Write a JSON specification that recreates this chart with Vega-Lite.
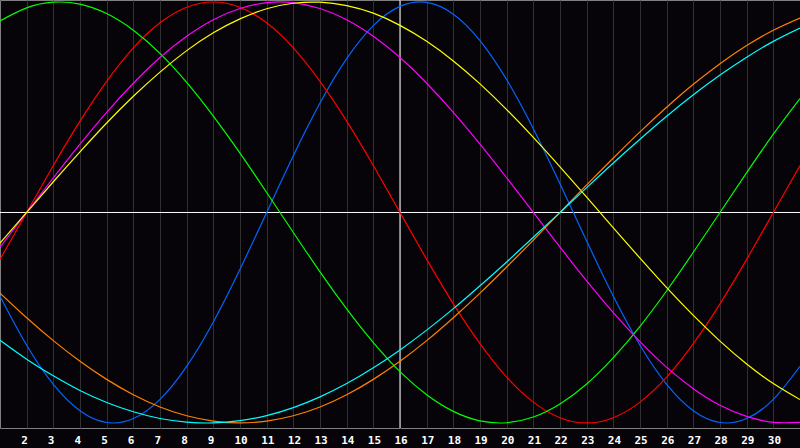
{
  "$schema": "https://vega.github.io/schema/vega-lite/v6.json",
  "width": 800,
  "height": 428,
  "autosize": "none",
  "padding": {"left": 0, "top": 0, "right": 0, "bottom": 20},
  "background": "#060408",
  "config": {
    "view": {"stroke": "#808080", "strokeWidth": 1},
    "font": "DejaVu Sans Mono",
    "axisX": {
      "title": null,
      "grid": true,
      "gridColor": "#303030",
      "gridWidth": 1,
      "gridOpacity": 1,
      "domain": false,
      "ticks": false,
      "tickSize": 0,
      "labelColor": "#ffffff",
      "labelFont": "DejaVu Sans Mono",
      "labelFontSize": 11,
      "labelFontWeight": "bold",
      "labelAlign": "left",
      "labelOffset": -6,
      "labelBaseline": "alphabetic",
      "labelPadding": 15,
      "labelOverlap": false,
      "labelFlush": false,
      "labelBound": false
    }
  },
  "datasets": {
    "curves": [
      {"t":1,"Physical":-0.398,"Emotional":-0.223,"Intellectual":0.910,"Intuitive":-0.165,"Aesthetic":-0.146,"Awareness":-0.383,"Spiritual":-0.607},
      {"t":2,"Physical":-0.631,"Emotional":0,"Intellectual":0.972,"Intuitive":0,"Aesthetic":0,"Awareness":-0.5,"Spiritual":-0.697},
      {"t":3,"Physical":-0.817,"Emotional":0.223,"Intellectual":0.999,"Intuitive":0.165,"Aesthetic":0.146,"Awareness":-0.609,"Spiritual":-0.776},
      {"t":4,"Physical":-0.942,"Emotional":0.434,"Intellectual":0.990,"Intuitive":0.325,"Aesthetic":0.288,"Awareness":-0.707,"Spiritual":-0.846},
      {"t":5,"Physical":-0.998,"Emotional":0.623,"Intellectual":0.945,"Intuitive":0.476,"Aesthetic":0.425,"Awareness":-0.793,"Spiritual":-0.903},
      {"t":6,"Physical":-0.979,"Emotional":0.782,"Intellectual":0.866,"Intuitive":0.614,"Aesthetic":0.552,"Awareness":-0.866,"Spiritual":-0.947},
      {"t":7,"Physical":-0.888,"Emotional":0.901,"Intellectual":0.756,"Intuitive":0.736,"Aesthetic":0.667,"Awareness":-0.924,"Spiritual":-0.979},
      {"t":8,"Physical":-0.731,"Emotional":0.975,"Intellectual":0.618,"Intuitive":0.837,"Aesthetic":0.769,"Awareness":-0.966,"Spiritual":-0.996},
      {"t":9,"Physical":-0.520,"Emotional":1,"Intellectual":0.458,"Intuitive":0.916,"Aesthetic":0.854,"Awareness":-0.991,"Spiritual":-1.0},
      {"t":10,"Physical":-0.270,"Emotional":0.975,"Intellectual":0.282,"Intuitive":0.969,"Aesthetic":0.920,"Awareness":-1,"Spiritual":-0.989},
      {"t":11,"Physical":0,"Emotional":0.901,"Intellectual":0.095,"Intuitive":0.997,"Aesthetic":0.968,"Awareness":-0.991,"Spiritual":-0.965},
      {"t":12,"Physical":0.270,"Emotional":0.782,"Intellectual":-0.095,"Intuitive":0.997,"Aesthetic":0.994,"Awareness":-0.966,"Spiritual":-0.927},
      {"t":13,"Physical":0.520,"Emotional":0.623,"Intellectual":-0.282,"Intuitive":0.969,"Aesthetic":0.999,"Awareness":-0.924,"Spiritual":-0.876},
      {"t":14,"Physical":0.731,"Emotional":0.434,"Intellectual":-0.458,"Intuitive":0.916,"Aesthetic":0.983,"Awareness":-0.866,"Spiritual":-0.813},
      {"t":15,"Physical":0.888,"Emotional":0.223,"Intellectual":-0.618,"Intuitive":0.837,"Aesthetic":0.947,"Awareness":-0.793,"Spiritual":-0.738},
      {"t":16,"Physical":0.979,"Emotional":0,"Intellectual":-0.756,"Intuitive":0.736,"Aesthetic":0.889,"Awareness":-0.707,"Spiritual":-0.653},
      {"t":17,"Physical":0.998,"Emotional":-0.223,"Intellectual":-0.866,"Intuitive":0.614,"Aesthetic":0.813,"Awareness":-0.609,"Spiritual":-0.559},
      {"t":18,"Physical":0.942,"Emotional":-0.434,"Intellectual":-0.945,"Intuitive":0.476,"Aesthetic":0.720,"Awareness":-0.5,"Spiritual":-0.457},
      {"t":19,"Physical":0.817,"Emotional":-0.623,"Intellectual":-0.990,"Intuitive":0.325,"Aesthetic":0.611,"Awareness":-0.383,"Spiritual":-0.348},
      {"t":20,"Physical":0.631,"Emotional":-0.782,"Intellectual":-0.999,"Intuitive":0.165,"Aesthetic":0.489,"Awareness":-0.259,"Spiritual":-0.235},
      {"t":21,"Physical":0.398,"Emotional":-0.901,"Intellectual":-0.972,"Intuitive":0,"Aesthetic":0.357,"Awareness":-0.131,"Spiritual":-0.118},
      {"t":22,"Physical":0.136,"Emotional":-0.975,"Intellectual":-0.910,"Intuitive":-0.165,"Aesthetic":0.217,"Awareness":0,"Spiritual":0},
      {"t":23,"Physical":-0.136,"Emotional":-1,"Intellectual":-0.815,"Intuitive":-0.325,"Aesthetic":0.073,"Awareness":0.131,"Spiritual":0.118},
      {"t":24,"Physical":-0.398,"Emotional":-0.975,"Intellectual":-0.690,"Intuitive":-0.476,"Aesthetic":-0.073,"Awareness":0.259,"Spiritual":0.235},
      {"t":25,"Physical":-0.631,"Emotional":-0.901,"Intellectual":-0.541,"Intuitive":-0.614,"Aesthetic":-0.217,"Awareness":0.383,"Spiritual":0.348},
      {"t":26,"Physical":-0.817,"Emotional":-0.782,"Intellectual":-0.372,"Intuitive":-0.736,"Aesthetic":-0.357,"Awareness":0.5,"Spiritual":0.457},
      {"t":27,"Physical":-0.942,"Emotional":-0.623,"Intellectual":-0.189,"Intuitive":-0.837,"Aesthetic":-0.489,"Awareness":0.609,"Spiritual":0.559},
      {"t":28,"Physical":-0.998,"Emotional":-0.434,"Intellectual":0,"Intuitive":-0.916,"Aesthetic":-0.611,"Awareness":0.707,"Spiritual":0.653},
      {"t":29,"Physical":-0.979,"Emotional":-0.223,"Intellectual":0.189,"Intuitive":-0.969,"Aesthetic":-0.720,"Awareness":0.793,"Spiritual":0.738},
      {"t":30,"Physical":-0.888,"Emotional":0,"Intellectual":0.372,"Intuitive":-0.997,"Aesthetic":-0.813,"Awareness":0.866,"Spiritual":0.813},
      {"t":31,"Physical":-0.731,"Emotional":0.223,"Intellectual":0.541,"Intuitive":-0.997,"Aesthetic":-0.889,"Awareness":0.924,"Spiritual":0.876}
    ]
  },
  "layer": [
    {
      "data": {"values": [{"v": 0}]},
      "mark": {"type": "rule", "color": "#ffffff", "strokeWidth": 1},
      "encoding": {
        "y": {"field": "v", "type": "quantitative", "scale": {"domain": [-1.024, 1.0095], "nice": false, "zero": false}, "axis": null}
      }
    },
    {
      "data": {"values": [{"t": 16}]},
      "mark": {"type": "rule", "color": "#ffffff", "strokeWidth": 1},
      "encoding": {
        "x": {"field": "t", "type": "quantitative", "scale": {"domain": [1, 31], "nice": false, "zero": false},
          "axis": {"values": [2,3,4,5,6,7,8,9,10,11,12,13,14,15,16,17,18,19,20,21,22,23,24,25,26,27,28,29,30], "labelOverlap": false}
        }
      }
    },
    {
      "data": {"name": "curves"},
      "transform": [
        {"fold": ["Physical", "Emotional", "Intellectual", "Intuitive", "Aesthetic", "Awareness", "Spiritual"], "as": ["s", "v"]}
      ],
      "mark": {"type": "line", "interpolate": "natural", "strokeWidth": 1.2},
      "encoding": {
        "x": {"field": "t", "type": "quantitative",
          "axis": {"values": [2,3,4,5,6,7,8,9,10,11,12,13,14,15,16,17,18,19,20,21,22,23,24,25,26,27,28,29,30], "labelOverlap": false}
        },
        "y": {"field": "v", "type": "quantitative"},
        "color": {
          "field": "s", "type": "nominal",
          "scale": {
            "domain": ["Physical", "Emotional", "Intellectual", "Intuitive", "Aesthetic", "Awareness", "Spiritual"],
            "range": ["#0066ff", "#ff0000", "#00ff00", "#ff00ff", "#ffff00", "#ff8000", "#00ffff"]
          },
          "legend": null
        }
      }
    }
  ]
}
